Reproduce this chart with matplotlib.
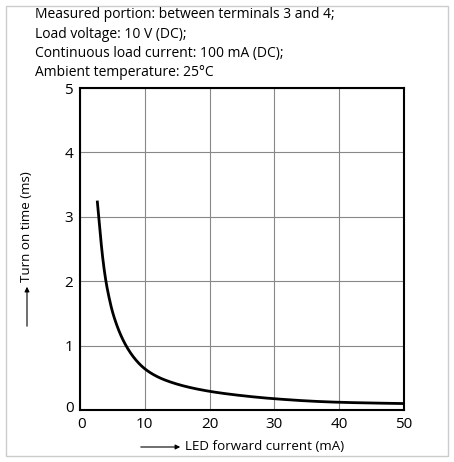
import numpy as np
import matplotlib.pyplot as plt
from matplotlib.patches import Rectangle

# curve
current_ma = [2.68, 2.92, 3.44, 4.0, 4.5, 5.0, 5.6, 7.1, 8.2, 10, 12.3, 14.4, 20, 24.8, 30, 40, 50]
turn_on_ms = [3.23, 2.98, 2.42, 2.0, 1.74, 1.53, 1.34, 1.0, 0.83, 0.64, 0.50, 0.42, 0.29, 0.225, 0.175, 0.12, 0.10]

notes = ["Measured portion: between terminals 3 and 4;",
         "Load voltage: 10 V (DC);",
         "Continuous load current: 100 mA (DC);",
         "Ambient temperature: 25\u00b0C"]

x_ticks = [0, 10, 20, 30, 40, 50]
y_ticks = [0, 1, 2, 3, 4, 5]


def pchip(x, y, xn):
    # monotone cubic (Fritsch-Carlson), just to draw a smooth line through the read points
    x = np.asarray(x, float); y = np.asarray(y, float)
    h = np.diff(x); d = np.diff(y) / h
    m = np.zeros_like(y)
    m[0], m[-1] = d[0], d[-1]
    for k in range(1, len(x) - 1):
        if d[k-1] * d[k] > 0:
            w1 = 2*h[k] + h[k-1]; w2 = h[k] + 2*h[k-1]
            m[k] = (w1 + w2) / (w1/d[k-1] + w2/d[k])
    i = np.clip(np.searchsorted(x, xn) - 1, 0, len(x) - 2)
    t = (xn - x[i]) / h[i]
    h00 = 2*t**3 - 3*t**2 + 1; h10 = t**3 - 2*t**2 + t
    h01 = -2*t**3 + 3*t**2; h11 = t**3 - t**2
    return h00*y[i] + h10*h[i]*m[i] + h01*y[i+1] + h11*h[i]*m[i+1]


plt.rcParams['font.family'] = ['Open Sans', 'DejaVu Sans']

fig = plt.figure(figsize=(4.54, 4.62), dpi=100)
W, H = 454, 462
ax = fig.add_axes([80/W, (H-410)/H, (404-80)/W, (410-88)/H])

lx = np.log(current_ma)
xf = np.geomspace(current_ma[0], current_ma[-1], 600)
yf = np.exp(pchip(lx, np.log(turn_on_ms), np.log(xf)))
ax.plot(xf, yf, color='black', lw=2)

ax.set_xlim(0, 50)
ax.set_ylim(0, 5)
ax.set_xticks(x_ticks)
ax.set_yticks(y_ticks)
ax.grid(True, color='#888888', lw=0.8)
ax.tick_params(length=0, labelsize=11, pad=5)
for s in ax.spines.values():
    s.set_linewidth(1.5)
ax.set_xticklabels([''] + [str(v) for v in x_ticks[1:]])
ax.set_yticklabels([''] + [str(v) for v in y_ticks[1:]])
fig.text(70/W, 1-408/H, '0', ha='center', va='center', fontsize=11)
fig.text(82/W, 1-424/H, '0', ha='center', va='center', fontsize=11)

for i, t in enumerate(notes):
    fig.text(35/W, 1-(15+19.3*i)/H, t, ha='left', va='center', fontsize=10)

# axis labels with arrows
fig.text(185/W, 1-447/H, 'LED forward current (mA)', ha='left', va='center', fontsize=9.6)
fig.add_artist(plt.Annotation('', xy=(183/W, 1-447/H), xytext=(138/W, 1-447/H),
                              xycoords='figure fraction',
                              arrowprops=dict(arrowstyle='-|>', color='black', lw=0.8,
                                              mutation_scale=7)))
fig.text(27/W, 1-282/H, 'Turn on time (ms)', ha='center', va='bottom', rotation=90, fontsize=9.6)
fig.add_artist(plt.Annotation('', xy=(27/W, 1-284/H), xytext=(27/W, 1-329/H),
                              xycoords='figure fraction',
                              arrowprops=dict(arrowstyle='-|>', color='black', lw=0.8,
                                              mutation_scale=7)))

fig.add_artist(Rectangle((6/W, 6/H), (W-12)/W, (H-12)/H, transform=fig.transFigure,
                         fill=False, edgecolor='#cccccc', lw=1))

fig.savefig('out.png', dpi=100)
